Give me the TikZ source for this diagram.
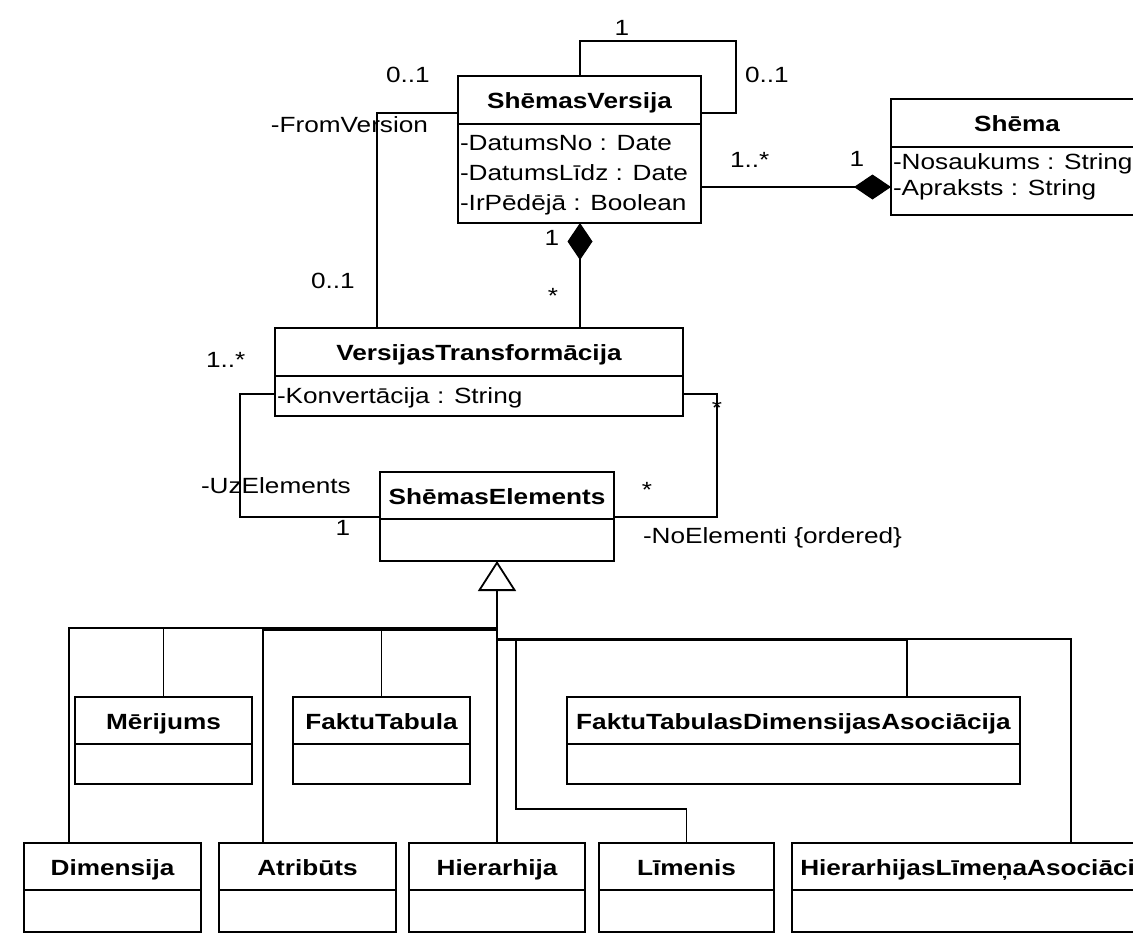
\documentclass[tikz,border=0pt]{standalone}
\usepackage{fontspec}
\setmainfont{Liberation Sans}[FakeStretch=1.19]
\usetikzlibrary{arrows.meta,calc}

\tikzset{
  classbox/.style={draw, line width=1.8pt, rectangle, inner sep=0pt, outer sep=0pt},
  divider/.style={line width=1.8pt},
  conn/.style={line width=1.3pt},
  txt/.style={inner sep=0pt, outer sep=0pt, font=\fontsize{22pt}{26pt}\selectfont},
  ttl/.style={txt, font=\fontsize{22pt}{26pt}\selectfont\bfseries, anchor=base},
  attr/.style={txt, anchor=base west},
  mult/.style={txt, anchor=base},
  composition/.tip={Diamond[length=37pt, width=25pt]},
  generalization/.tip={Triangle[open, fill=white, length=30pt, width=38pt, line width=1.8pt]},
}

% class box: name, left, top, right, bottom, divider y, title
\newcommand{\umlclass}[7]{%
  \node[classbox, minimum width={#4-#2}, minimum height={#5-#3}, anchor=north west] (#1) at (#2,#3) {};
  \draw[divider] ($(#1.north west)+(0,{#6-#3})$) -- ($(#1.north east)+(0,{#6-#3})$);
  \node[ttl] (#1-t) at ($(#1.north)+(0,32)$) {#7};
}

\begin{document}
\begin{tikzpicture}[x=1pt,y=-1pt]
\clip (0,0) rectangle (1133,943);
\fill[white] (0,0) rectangle (1133,943);

% classes
\umlclass{sv}{458}{76}{701}{223}{124}{ShēmasVersija}
\umlclass{sh}{891}{99}{1143}{215}{147}{Shēma}
\umlclass{vt}{275}{328}{683}{416}{376}{VersijasTransformācija}
\umlclass{se}{380}{472}{614}{561}{519}{ShēmasElements}
\umlclass{mer}{75}{697}{252}{784}{744}{Mērijums}
\umlclass{ft}{293}{697}{470}{784}{744}{FaktuTabula}
\umlclass{ftda}{567}{697}{1020}{784}{744}{FaktuTabulasDimensijasAsociācija}
\umlclass{dim}{24}{843}{201}{932}{890}{Dimensija}
\umlclass{atr}{219}{843}{396}{932}{890}{Atribūts}
\umlclass{hi}{409}{843}{585}{932}{890}{Hierarhija}
\umlclass{lim}{599}{843}{774}{932}{890}{Līmenis}
\umlclass{hla}{792}{843}{1165}{932}{890}{HierarhijasLīmeņaAsociācija}

% attributes
\node[attr] (sv-a1) at (460,150) {-DatumsNo : Date};
\node[attr] (sv-a2) at (460,180) {-DatumsLīdz : Date};
\node[attr] (sv-a3) at (460,210) {-IrPēdējā : Boolean};
\node[attr] (sh-a1) at (893,169) {-Nosaukums : String};
\node[attr] (sh-a2) at (893,195) {-Apraksts : String};
\node[attr] (vt-a1) at (277,403) {-Konvertācija : String};

% bend points of the connectors
\coordinate (loopA) at (580,41);
\coordinate (loopB) at (736,113);
\coordinate (fromv) at (377,113);
\coordinate (shlink) at (800,187);
\coordinate (vtlink) at (580,300);
\coordinate (uzTop) at (240,394);
\coordinate (uzBot) at (240,517);
\coordinate (noTop) at (717,394);
\coordinate (noBot) at (717,517);

% self association of ShēmasVersija
\draw[conn] (sv.north -| loopA) -- (loopA) -| (loopB) -- (sv.east |- loopB);
% FromVersion
\draw[conn] (sv.west |- fromv) -- (fromv) -- (vt.north -| fromv);
% compositions
\draw[conn, -{composition}] (sv.east |- shlink) -- (sh.west |- shlink);
\draw[conn, {composition}-] (sv.south -| vtlink) -- (vt.north -| vtlink);
% UzElements and NoElementi
\draw[conn] (vt.west |- uzTop) -- (uzTop) -- (uzBot) -- (se.west |- uzBot);
\draw[conn] (vt.east |- noTop) -- (noTop) -- (noBot) -- (se.east |- noBot);

% generalization tree
\coordinate (busL) at (497,628);
\coordinate (busL2) at (497,630);
\coordinate (busR) at (497,640);
\coordinate (busR2) at (497,639);
\coordinate (dimx) at (69,628);
\coordinate (atrx) at (263,630);
\coordinate (ftdax) at (907,640);
\coordinate (hlax) at (1071,639);
\coordinate (limx) at (516,809);

\draw[conn] (dim.north -| dimx) -- (dimx) -- (busL);
\draw[conn] (mer.north) |- (busL);
\draw[conn] (atr.north -| atrx) -- (atrx) -- (busL2);
\draw[conn] (ft.north) |- (busL2);
\draw[conn] (ftda.north -| ftdax) -- (ftdax) -- (busR);
\draw[conn] (hla.north -| hlax) -- (hlax) -- (busR2);
\draw[conn] (lim.north) |- (limx) |- (busR);
\draw[conn, -{generalization}] (hi.north) -- (se.south);

% multiplicities and role names
\node[mult] (m1) at (622,35) {1};
\node[attr] (m2) at (745,82) {0..1};
\node[attr] (m3) at (386,82) {0..1};
\node[txt, anchor=base east] (r1) at (428,132) {-FromVersion};
\node[attr] (m4) at (730,167) {1..*};
\node[mult] (m5) at (857,166) {1};
\node[mult] (m6) at (552,245) {1};
\node[mult] (m7) at (553,303) {*};
\node[attr] (m8) at (311,288) {0..1};
\node[attr] (m9) at (206,367) {1..*};
\node[mult] (m10) at (717,415) {*};
\node[attr] (r2) at (201,493) {-UzElements};
\node[mult] (m11) at (343,535) {1};
\node[mult] (m12) at (647,497) {*};
\node[attr] (r3) at (643,543) {-NoElementi \{ordered\}};
\end{tikzpicture}
\end{document}
